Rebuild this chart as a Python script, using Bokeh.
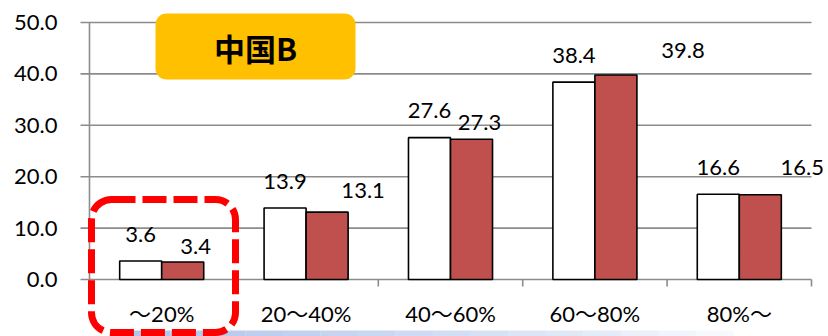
from bokeh.plotting import figure
from bokeh.models import ColumnDataSource, Range1d, BoxAnnotation, Label
from bokeh.transform import dodge
from bokeh.core.properties import value
from bokeh.embed import file_html
from bokeh.resources import INLINE

# ---- data ----
categories = ["〜20%", "20〜40%", "40〜60%", "60〜80%", "80%〜"]
series_white = [3.6, 13.9, 27.6, 38.4, 16.6]
series_red = [3.4, 13.1, 27.3, 39.8, 16.5]
y_ticks = [0, 10, 20, 30, 40, 50]
y_tick_labels = ["0.0", "10.0", "20.0", "30.0", "40.0", "50.0"]
title_text = "中国B"

# label nudges (screen px) as placed on the original slide
white_dy = [-26, -27, -27, -27, -27]
red_dx = [13, 36, 8, 67, 42]
red_dy = [-16, -22, -17, -24, -27]

FONT = "Lato, 'Noto Sans CJK JP', sans-serif"
FS = "22px"
GRID = "#8c8c8c"
RED = "#C0504D"

# ---- geometry: frame covers the whole canvas, plot area inside it ----
W, H = 828, 336
PL, PR, PT, PB = 89, 811, 22, 279          # plot-area edges in px
ncat = len(categories)
ymax = y_ticks[-1]
xs = (PR - PL) / ncat                        # px per category
ys = (PB - PT) / ymax                        # px per unit
x_range = Range1d(-PL / xs, ncat + (W - PR) / xs)
y_range = Range1d(-(H - PB) / ys, ymax + PT / ys)

centers = [i + 0.5 for i in range(ncat)]
src = ColumnDataSource(dict(
    x=centers, w=series_white, r=series_red,
    wl=[f"{v:.1f}" for v in series_white], rl=[f"{v:.1f}" for v in series_red],
    wdy=white_dy, rdx=red_dx, rdy=red_dy, cat=categories,
))
ysrc = ColumnDataSource(dict(y=y_ticks, lab=y_tick_labels))

p = figure(width=W, height=H, output_backend="svg", toolbar_location=None,
           x_range=x_range, y_range=y_range,
           min_border_left=0, min_border_right=0, min_border_top=0,
           min_border_bottom=0)
p.outline_line_color = None
p.background_fill_color = "white"
p.border_fill_color = "white"
p.xaxis.visible = False
p.yaxis.visible = False
p.xgrid.visible = False
p.ygrid.visible = False

# light blue strip at the very bottom (slide decoration)
n = 16
for i in range(n):
    a = 0.9 * (1 - i / n) ** 0.8
    p.add_layout(BoxAnnotation(left=0.3 + i * 0.26, right=0.3 + (i + 1) * 0.26,
                               top=-(330 - PB) / ys, bottom=-(337 - PB) / ys,
                               fill_color="#A9BFE8", fill_alpha=a,
                               line_color=None, level="underlay"))

# gridlines with outside ticks on the left
tick_len_x = 9 / xs
p.segment(x0=-tick_len_x, x1=ncat, y0="y", y1="y", source=ysrc,
          line_color=GRID, line_width=1.6)
# y axis line
p.segment(x0=[0], x1=[0], y0=[-7 / ys], y1=[ymax], line_color=GRID, line_width=1.6)
# category boundary ticks below the x axis
bounds = list(range(ncat + 1))
p.segment(x0=bounds, x1=bounds, y0=[0] * len(bounds), y1=[-7 / ys] * len(bounds),
          line_color=GRID, line_width=1.6)

# y tick labels
p.text(x=0, y="y", text="lab", source=ysrc, x_offset=-32,
       text_align="right", text_baseline="middle",
       text_font=value(FONT), text_font_size=FS, text_color="black")
# category labels
p.text(x="x", y=0, text="cat", source=src, y_offset=34,
       text_align="center", text_baseline="middle",
       text_font=value(FONT), text_font_size=FS, text_color="black")

bw = 0.291
p.vbar(x=dodge("x", -bw / 2, range=p.x_range), top="w", width=bw, source=src,
       fill_color="white", line_color="black", line_width=1.6)
p.vbar(x=dodge("x", bw / 2, range=p.x_range), top="r", width=bw, source=src,
       fill_color=RED, line_color="black", line_width=1.6)

p.text(x=dodge("x", -bw / 2, range=p.x_range), y="w", text="wl", source=src,
       y_offset="wdy", text_align="center", text_baseline="middle",
       text_font=value(FONT), text_font_size=FS, text_color="black")
p.text(x=dodge("x", bw / 2, range=p.x_range), y="r", text="rl", source=src,
       x_offset="rdx", y_offset="rdy", text_align="center", text_baseline="middle",
       text_font=value(FONT), text_font_size=FS, text_color="black")

# title badge
p.add_layout(BoxAnnotation(left=(155 - PL) / xs, right=(355 - PL) / xs,
                           top=(PB - 13) / ys, bottom=(PB - 79) / ys,
                           fill_color="#FFC000", fill_alpha=1.0, line_color=None,
                           border_radius=11))
p.add_layout(Label(x=(255 - PL) / xs, y=(PB - 47) / ys, text=title_text,
                   text_align="center", text_baseline="middle",
                   text_font="'Noto Sans CJK JP'", text_font_style="bold",
                   text_font_size="31px", text_color="black"))

# red dashed highlight around the first category
p.add_layout(BoxAnnotation(left=(91 - PL) / xs, right=(235 - PL) / xs,
                           top=(PB - 199) / ys, bottom=-(332 - PB) / ys,
                           fill_alpha=0, line_color="#FF0000", line_alpha=1.0,
                           line_width=7, line_dash="24 7", border_radius=20))

open("out.html", "w").write(file_html(p, INLINE))
